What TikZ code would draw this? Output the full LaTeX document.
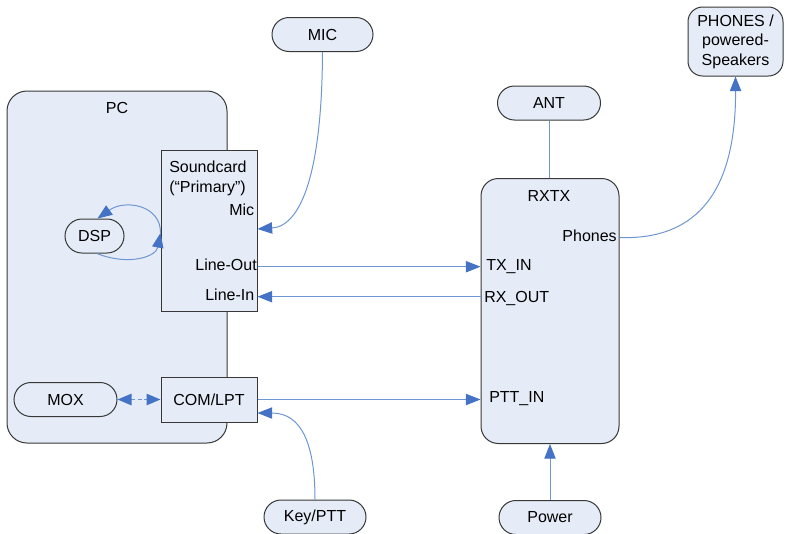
\documentclass[tikz,border=0pt]{standalone}
\usepackage{fontspec}
\setmainfont{Liberation Sans}
\usetikzlibrary{arrows.meta,calc}
\definecolor{boxfill}{RGB}{230,236,247}
\definecolor{boxline}{RGB}{55,55,55}
\definecolor{wireblue}{RGB}{108,150,212}
\definecolor{tipblue}{RGB}{68,114,196}
\tikzset{
  lbl/.style={font=\fontsize{12}{14.6}\selectfont, inner sep=0pt},
  panel/.style={draw=boxline, fill=boxfill, line width=0.75pt, inner sep=0pt, lbl},
  pill/.style={panel, rounded corners=12.75pt, minimum height=25.5pt},
  plainbox/.style={panel},
  link/.style={draw=wireblue, line width=0.75pt},
  tip/.style={-{Triangle[length=11pt,width=8.5pt,color=tipblue]}},
  bothtips/.style={{Triangle[length=10.5pt,width=8.5pt,color=tipblue]}-{Triangle[length=10.5pt,width=8.5pt,color=tipblue]}}
}
\begin{document}
\begin{tikzpicture}[x=0.75pt,y=-0.75pt]
\useasboundingbox (0,0) rectangle (785,533);

% PC enclosure
\node[panel, rounded corners=15pt, minimum width=165pt, minimum height=264pt] (pc) at (117,267) {};
\node[lbl, anchor=base] (pctitle) at (117,113) {PC};

% soundcard and serial/parallel port inside the PC
\node[plainbox, minimum width=72pt, minimum height=120.75pt] (sc) at (209,230.5) {};
\node[lbl, anchor=base west] (sctitle) at (169,172.5) {Soundcard};
\node[lbl, anchor=base west] (scsub) at (169,192) {(“Primary”)};
\node[lbl, anchor=base east] (scmic) at (254.5,215) {Mic};
\node[lbl, anchor=base east] (scout) at (257,270) {Line-Out};
\node[lbl, anchor=base east] (scin) at (254.5,300) {Line-In};

\node[plainbox, minimum width=72pt, minimum height=33.75pt] (com) at (209,399.5) {COM/LPT};
\node[pill, minimum width=44.25pt, minimum height=25.5pt] (dsp) at (94.5,236) {DSP};
\node[pill, minimum width=77.25pt] (mox) at (65.5,399.5) {MOX};

% external units
\node[pill, minimum width=75.75pt] (mic) at (322.5,34.5) {MIC};
\node[pill, minimum width=77.25pt] (ant) at (549,103) {ANT};
\node[panel, rounded corners=11pt, minimum width=71.25pt, minimum height=51.75pt, align=center] (phones) at (735.5,41.5) {PHONES /\\powered-\\Speakers};
\node[pill, minimum width=76.5pt] (key) at (315,517) {Key/PTT};
\node[pill, minimum width=76.5pt] (power) at (550,517.5) {Power};

% transceiver
\node[panel, rounded corners=13pt, minimum width=103.5pt, minimum height=198.75pt] (rx) at (550,311) {};
\node[lbl, anchor=base] (rxtitle) at (549,201.5) {RXTX};
\node[lbl, anchor=base east] (rxphones) at (617,241) {Phones};
\node[lbl, anchor=base west] (rxtxin) at (486,270) {TX\_IN};
\node[lbl, anchor=base west] (rxrxout) at (484,302.5) {RX\_OUT};
\node[lbl, anchor=base west] (rxptt) at (489,402.5) {PTT\_IN};

% port positions on the box edges
\coordinate (scloop) at ($(sc.west)+(0,2.5)$);
\coordinate (scmicin) at (sc.east |- 0,229);
\coordinate (scoutp) at (sc.east |- 0,266.7);
\coordinate (scinp) at (sc.east |- 0,296.7);
\coordinate (comout) at (com.east |- 0,399.5);
\coordinate (comin) at (com.east |- 0,413);
\coordinate (rxtxinp) at (rx.west |- 0,266.7);
\coordinate (rxrxoutp) at (rx.west |- 0,296.7);
\coordinate (rxpttp) at (rx.west |- 0,399.5);
\coordinate (rxphonesp) at (rx.east |- 0,237.5);
\coordinate (dsptop) at ($(dsp.north)+(3,0)$);
\coordinate (dspbot) at ($(dsp.south)+(2.5,0)$);

% DSP processing loop
\draw[link, tip] (scloop) .. controls (161,205) and (125,199) .. (dsptop);
\draw[link, tip] (dspbot) .. controls (128,266) and (156,257) .. (scloop);

% audio paths
\draw[link, tip] (mic.south) .. controls (322,170) and (302,226) .. (scmicin);
\draw[link, tip] (scoutp) -- (rxtxinp);
\draw[link, tip] (rxrxoutp) -- (scinp);
\draw[link, tip] (rxphonesp) .. controls (690,240) and (736,200) .. (phones.south);

% keying paths
\draw[draw=wireblue, line width=1.4pt, dash pattern=on 3pt off 2pt, bothtips] (mox.east) -- (com.west);
\draw[link, tip] (comout) -- (rxpttp);
\draw[link, tip] (key.north) .. controls (315,445) and (302,413) .. (comin);

% antenna and supply
\draw[link] (ant.south) -- (rx.north -| ant.south);
\draw[link, tip] (power.north) -- (rx.south);
\end{tikzpicture}
\end{document}
